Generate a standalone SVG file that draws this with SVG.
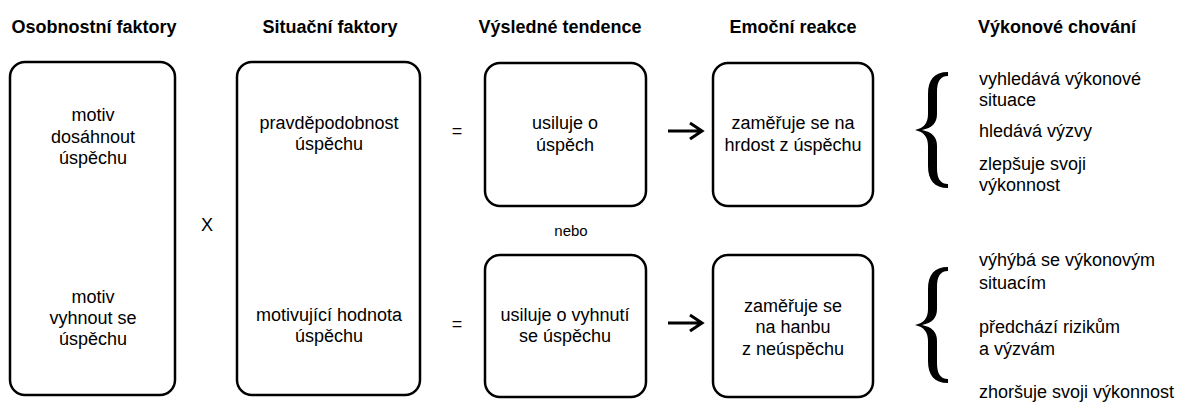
<svg xmlns="http://www.w3.org/2000/svg" width="1195" height="403" viewBox="0 0 1195 403">
<style>
text{font-family:"Liberation Sans",Arial,sans-serif;fill:#000}
.h{font-size:18px;font-weight:bold;text-anchor:middle}
.t{font-size:18px;text-anchor:middle}
.r{font-size:18px;text-anchor:start}
.box{fill:#fff;stroke:#000;stroke-width:2.5}
.arr{fill:none;stroke:#000;stroke-width:3}
</style>
<defs>
<path id="brace" d="M948 72 C934 72 928 80 928 94 L928 114 C928 123 924 128 915 130 C924 132 928 137 928 146 L928 166 C928 180 934 188 948 188 L948 184 C940 184 937 178 937 168 L937 146 C937 137 932 132 922 130 C932 128 937 123 937 114 L937 92 C937 82 940 76 948 76 Z" fill="#000"/>
</defs>
<rect width="1195" height="403" fill="#fff"/>
<g id="headers">
<text class="h" x="94" y="33">Osobnostní faktory</text>
<text class="h" x="330" y="33">Situační faktory</text>
<text class="h" x="560" y="33">Výsledné tendence</text>
<text class="h" x="793" y="33">Emoční reakce</text>
<text class="h" x="1057" y="33">Výkonové chování</text>
</g>
<g id="osobnostni">
<rect class="box" x="10" y="62" width="165" height="333" rx="15"/>
<text class="t" x="93" y="121">motiv</text>
<text class="t" x="93" y="143">dosáhnout</text>
<text class="t" x="93" y="164">úspěchu</text>
<text class="t" x="93" y="303">motiv</text>
<text class="t" x="93" y="324">vyhnout se</text>
<text class="t" x="93" y="345">úspěchu</text>
</g>
<g id="krat"><text class="t" x="207" y="231">X</text></g>
<g id="situacni">
<rect class="box" x="237" y="62" width="183" height="333" rx="15"/>
<text class="t" x="329" y="129">pravděpodobnost</text>
<text class="t" x="329" y="150">úspěchu</text>
<text class="t" x="329" y="321">motivující hodnota</text>
<text class="t" x="329" y="342">úspěchu</text>
</g>
<g id="rovna">
<text class="t" x="457" y="137">=</text>
<text class="t" x="457" y="330">=</text>
</g>
<g id="tendence-uspech">
<rect class="box" x="485" y="63" width="161" height="143" rx="15"/>
<text class="t" x="565" y="129">usiluje o</text>
<text class="t" x="565" y="151">úspěch</text>
</g>
<g id="nebo"><text x="571" y="236" style="font-size:15px;text-anchor:middle">nebo</text></g>
<g id="tendence-vyhnuti">
<rect class="box" x="485" y="255" width="161" height="142" rx="15"/>
<text class="t" x="565" y="321">usiluje o vyhnutí</text>
<text class="t" x="565" y="342">se úspěchu</text>
</g>
<g id="reakce-hrdost">
<rect class="box" x="713" y="63" width="160" height="143" rx="15"/>
<text class="t" x="793" y="129">zaměřuje se na</text>
<text class="t" x="793" y="151">hrdost z úspěchu</text>
</g>
<g id="reakce-hanba">
<rect class="box" x="713" y="255" width="160" height="142" rx="15"/>
<text class="t" x="793" y="312">zaměřuje se</text>
<text class="t" x="793" y="333">na hanbu</text>
<text class="t" x="793" y="355">z neúspěchu</text>
</g>
<g id="connectors">
<path class="arr" d="M668 131 H702 M690 123 L702 131 L690 139"/>
<path class="arr" d="M668 323 H702 M690 315 L702 323 L690 331"/>
<use href="#brace"/>
<use href="#brace" transform="translate(0,195)"/>
</g>
<g id="chovani-uspech">
<text class="r" x="979" y="85">vyhledává výkonové</text>
<text class="r" x="979" y="106">situace</text>
<text class="r" x="979" y="137">hledává výzvy</text>
<text class="r" x="979" y="170">zlepšuje svoji</text>
<text class="r" x="979" y="191">výkonnost</text>
</g>
<g id="chovani-vyhnuti">
<text class="r" x="979" y="266">výhýbá se výkonovým</text>
<text class="r" x="979" y="289">situacím</text>
<text class="r" x="979" y="333">předchází rizikům</text>
<text class="r" x="979" y="355">a výzvám</text>
<text class="r" x="979" y="398">zhoršuje svoji výkonnost</text>
</g>
</svg>
